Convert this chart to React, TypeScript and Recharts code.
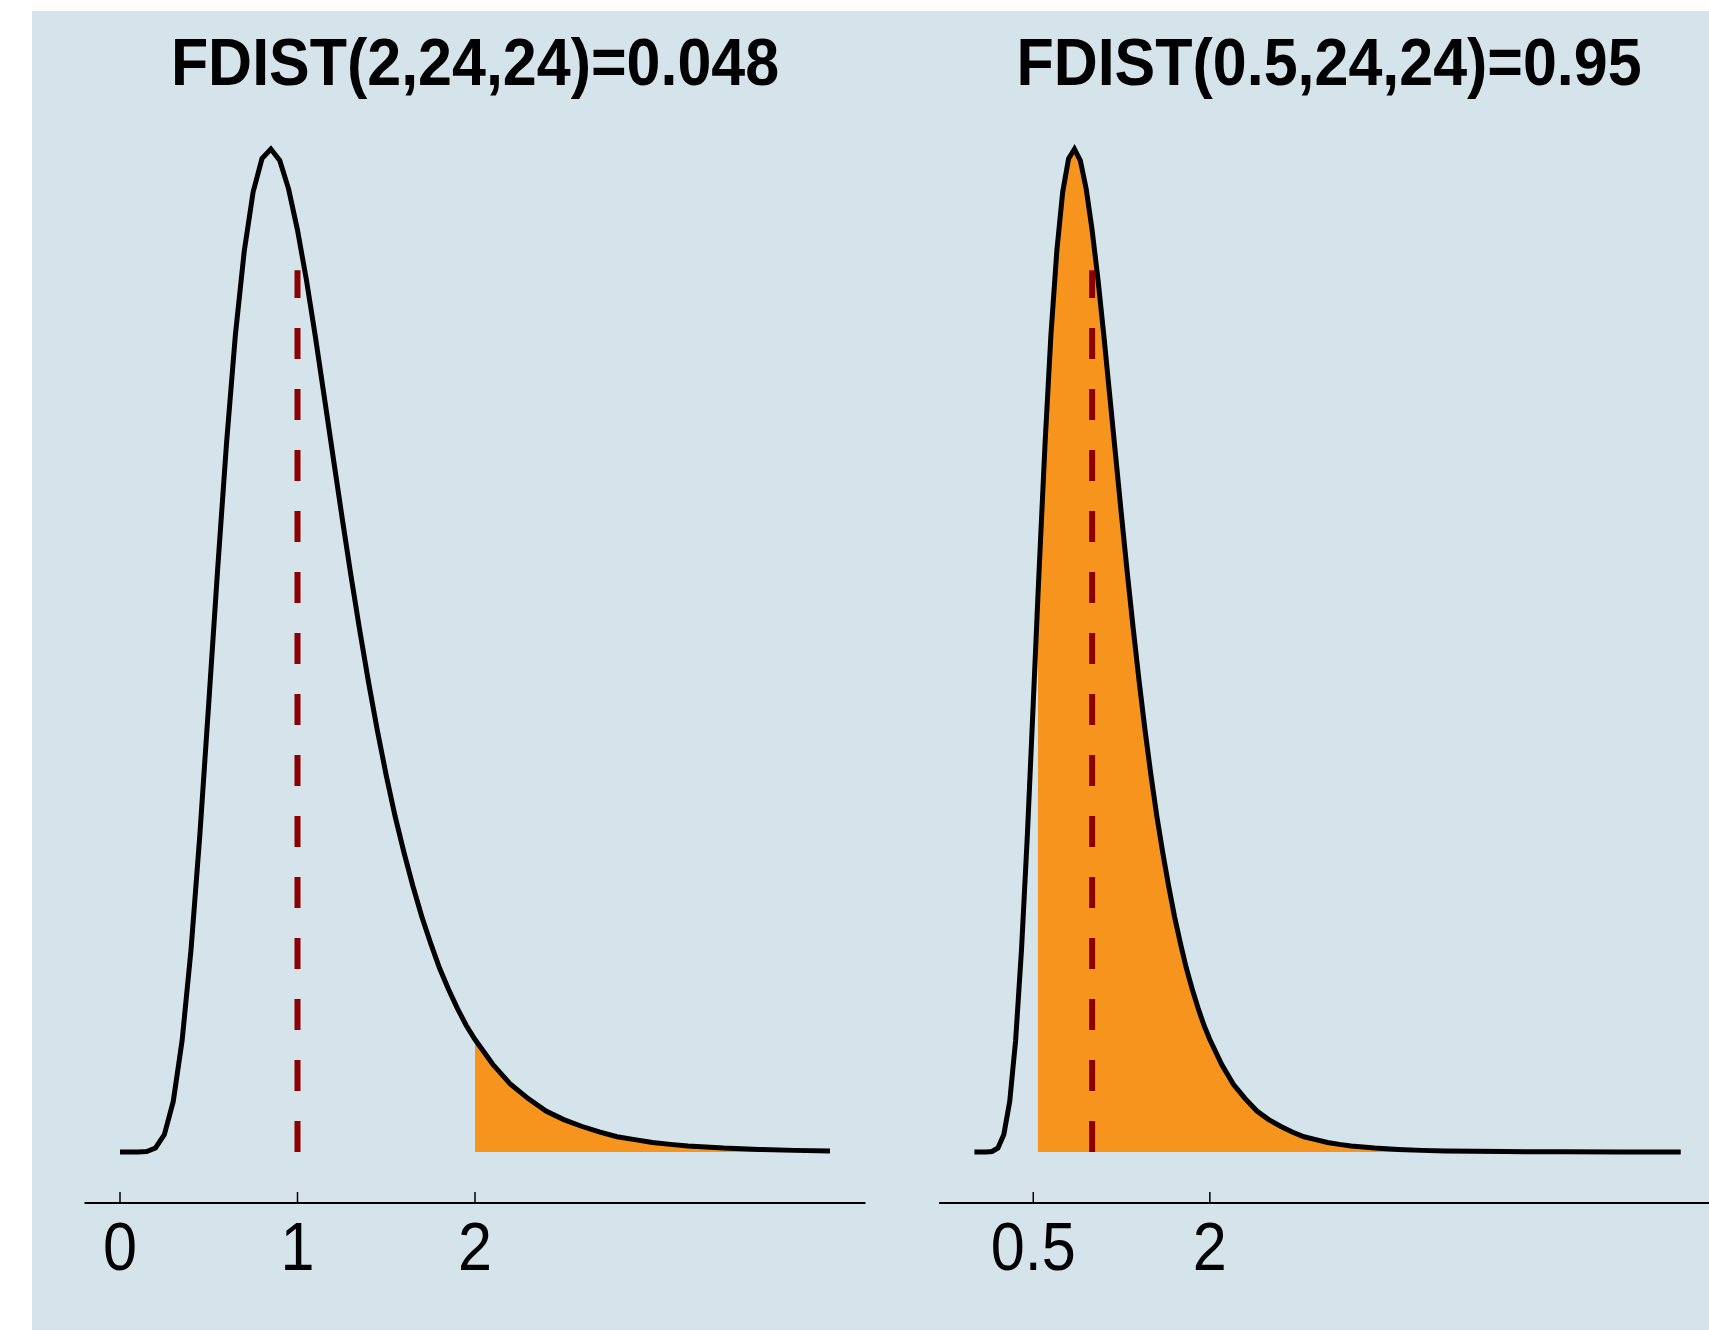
import { Area, ComposedChart, Line, XAxis, YAxis } from "recharts";

// density of F(24,24)
const densityX = [
  0, 0.05, 0.1, 0.15, 0.2, 0.25, 0.3, 0.35, 0.4, 0.45, 0.5, 0.55, 0.6, 0.65,
  0.7, 0.75, 0.8, 0.85, 0.9, 0.95, 1.0, 1.05, 1.1, 1.15, 1.2, 1.25, 1.3, 1.35,
  1.4, 1.45, 1.5, 1.55, 1.6, 1.65, 1.7, 1.75, 1.8, 1.85, 1.9, 1.95, 2.0, 2.1,
  2.2, 2.3, 2.4, 2.5, 2.6, 2.7, 2.8, 2.9, 3.0, 3.1, 3.2, 3.4, 3.6, 3.8, 4.0,
];
const densityY = [
  0, 0, 0.00002, 0.0005, 0.0042, 0.0183, 0.053, 0.117, 0.212, 0.333, 0.471,
  0.611, 0.743, 0.857, 0.945, 1.007, 1.042, 1.052, 1.04, 1.01, 0.967, 0.915,
  0.856, 0.793, 0.73, 0.667, 0.606, 0.548, 0.493, 0.442, 0.395, 0.352, 0.314,
  0.279, 0.247, 0.219, 0.193, 0.171, 0.151, 0.133, 0.118, 0.092, 0.071, 0.056,
  0.043, 0.034, 0.027, 0.021, 0.016, 0.013, 0.01, 0.008, 0.0064, 0.0041,
  0.0027, 0.0017, 0.0011,
];
// extra points used by the right panel
const rightExtraX = [0.54, 4.5, 5.0, 5.5, 6.0];
const rightExtraY = [0.584, 0.0004, 0.0002, 0.0001, 0.00003];

const leftTicks = [0, 1, 2];
const rightTicks = [0.5, 2];
const leftCut = 2;
const rightCut = 0.54;
const meanLineX = 1;
const meanLineTop = 0.925;

const leftTitle = "FDIST(2,24,24)=0.048";
const rightTitle = "FDIST(0.5,24,24)=0.95";

const FONT = "'Liberation Sans', Arial, sans-serif";
const ORANGE = "#f7941d";

type Pt = { x: number; pdf: number };

const leftData: Pt[] = densityX.map((x, i) => ({ x, pdf: densityY[i] }));
const rightData: Pt[] = [
  ...leftData,
  ...rightExtraX.map((x, i) => ({ x, pdf: rightExtraY[i] })),
].sort((a, b) => a.x - b.x);

const meanLine = [
  { x: meanLineX, pdf: 0 },
  { x: meanLineX, pdf: meanLineTop },
];

// labels in the original are a condensed face, so squeeze them a bit
const renderTick = (props: any) => {
  const { x, y, payload } = props;
  return (
    <g>
      <line x1={x} x2={x} y1={y} y2={y - 11} stroke="#000" strokeWidth={1.5} />
      <text
        transform={`translate(${x},${y + 67}) scale(0.9,1)`}
        textAnchor="middle"
        fontSize={68}
        fontFamily={FONT}
        fill="#000"
      >
        {payload.value}
      </text>
    </g>
  );
};

const Y_DOMAIN: [number, number] = [-0.0535, 1.1];

function Panel(props: {
  data: Pt[];
  cut: number;
  ticks: number[];
  domain: [number, number];
  width: number;
  marginLeft: number;
  marginRight: number;
}) {
  const { data, cut, ticks, domain, width, marginLeft, marginRight } = props;
  const shaded = data.filter((d) => d.x >= cut);
  return (
    <ComposedChart
      width={width}
      height={1330}
      margin={{ top: 103.3, left: marginLeft, right: marginRight, bottom: 47 }}
    >
      <XAxis
        dataKey="x"
        type="number"
        domain={domain}
        ticks={ticks}
        allowDataOverflow
        height={80}
        tickSize={0}
        tickMargin={0}
        tickLine={false}
        axisLine={{ stroke: "#000", strokeWidth: 2 }}
        tick={renderTick}
      />
      <YAxis type="number" domain={Y_DOMAIN} allowDataOverflow hide />
      <Area
        data={shaded}
        dataKey="pdf"
        type="linear"
        baseValue={0}
        fill={ORANGE}
        fillOpacity={1}
        stroke="#e8850f"
        strokeWidth={3}
        isAnimationActive={false}
      />
      <Line
        data={data}
        dataKey="pdf"
        type="linear"
        stroke="#000"
        strokeWidth={5}
        dot={false}
        isAnimationActive={false}
      />
      <Line
        data={meanLine}
        dataKey="pdf"
        type="linear"
        stroke="#8b0000"
        strokeWidth={6}
        strokeDasharray="31 30"
        dot={false}
        isAnimationActive={false}
      />
    </ComposedChart>
  );
}

function Title({ x, text }: { x: number; text: string }) {
  return (
    <text
      transform={`translate(${x},85) scale(0.91,1)`}
      textAnchor="middle"
      fontSize={67}
      fontWeight="bold"
      fontFamily={FONT}
      fill="#000"
    >
      {text}
    </text>
  );
}

export default function App() {
  return (
    <div
      style={{
        position: "absolute",
        left: 0,
        top: 0,
        width: 1709,
        height: 1330,
        overflow: "hidden",
        background: "#fff",
      }}
    >
      <div
        style={{
          position: "absolute",
          left: 32,
          top: 11,
          right: 0,
          bottom: 0,
          background: "#d5e3eb",
        }}
      />
      <div style={{ position: "absolute", left: 0, top: 0 }}>
        <Panel
          data={leftData}
          cut={leftCut}
          ticks={leftTicks}
          domain={[-0.2, 4.2]}
          width={880}
          marginLeft={84.5}
          marginRight={14.5}
        />
      </div>
      <div style={{ position: "absolute", left: 900, top: 0 }}>
        <Panel
          data={rightData}
          cut={rightCut}
          ticks={rightTicks}
          domain={[-0.3, 6.3]}
          width={830}
          marginLeft={39.1}
          marginRight={14}
        />
      </div>
      <svg
        width={1709}
        height={140}
        style={{ position: "absolute", left: 0, top: 0, pointerEvents: "none" }}
      >
        <Title x={475} text={leftTitle} />
        <Title x={1329} text={rightTitle} />
      </svg>
    </div>
  );
}
